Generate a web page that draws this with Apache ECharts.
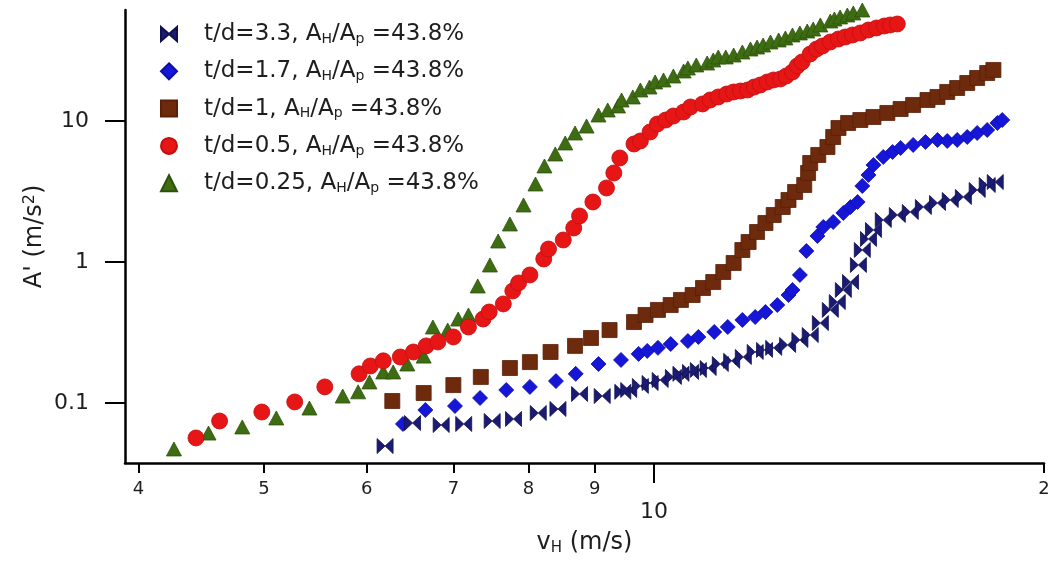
<!DOCTYPE html>
<html><head><meta charset="utf-8">
<script src="https://cdn.jsdelivr.net/npm/echarts@6/dist/echarts.min.js"></script>
<style>html,body{margin:0;padding:0;background:#fff}#c{width:1051px;height:562px}</style>
</head><body><div id="c"></div>
<script>
// ---- data ----
const seriesNames = ['t/d=3.3', 't/d=1.7', 't/d=1', 't/d=0.5', 't/d=0.25'];
const areaRatioLabel = '43.8%';
const xMinorTicks = [4, 5, 6, 7, 8, 9, 20];
const xMajorTicks = [10];
const yTicks = [0.1, 1, 10];
const xRange = [3.905, 20];
const yRange = [0.03753, 61.25];

const td33_v = [6.20,6.51,6.85,7.13,7.50,7.79,8.14,8.43,8.76,9.12,9.46,9.56,9.76,9.93,10.11,10.35,10.49,10.67,10.82,11.01,11.25,11.48,11.72,11.97,12.17,12.37,12.68,12.96,13.20,13.44,13.68,13.85,14.00,14.18,14.38,14.48,14.64,14.77,15.03,15.41,15.77,16.14,16.55,16.93,17.33,17.76,18.08,18.34];
const td33_A = [0.0495,0.0721,0.0698,0.0710,0.0745,0.0770,0.0849,0.0907,0.1158,0.112,0.120,0.1236,0.132,0.1386,0.1456,0.153,0.161,0.166,0.1714,0.177,0.189,0.199,0.212,0.230,0.238,0.246,0.258,0.280,0.3035,0.369,0.457,0.520,0.633,0.721,0.952,1.216,1.456,1.687,1.986,2.154,2.263,2.455,2.621,2.753,2.891,3.240,3.517,3.692];

const td17_v = [6.40,6.66,7.02,7.34,7.69,8.02,8.40,8.70,9.06,9.43,9.73,9.88,10.07,10.30,10.62,10.82,11.13,11.40,11.70,11.97,12.19,12.45,12.70,12.79,12.96,13.11,13.37,13.51,13.75,14.00,14.18,14.36,14.48,14.64,14.77,15.03,15.28,15.50,15.85,16.20,16.55,16.84,17.14,17.45,17.76,18.08,18.41,18.57];
const td17_A = [0.0710,0.0892,0.0952,0.1085,0.1236,0.130,0.143,0.161,0.189,0.202,0.223,0.234,0.246,0.262,0.275,0.294,0.319,0.346,0.388,0.407,0.442,0.495,0.583,0.633,0.809,1.197,1.529,1.771,1.922,2.226,2.455,2.664,3.459,4.140,4.875,5.555,6.029,6.434,6.760,7.098,7.334,7.214,7.334,7.699,8.22,8.633,9.68,10.16];

const td1_v = [6.28,6.64,7.00,7.35,7.74,8.02,8.32,8.69,8.94,9.24,9.65,9.85,10.07,10.30,10.49,10.71,10.91,11.11,11.31,11.52,11.70,11.83,12.01,12.19,12.37,12.57,12.70,12.85,13.06,13.15,13.20,13.39,13.61,13.75,13.88,14.12,14.43,14.77,15.14,15.50,15.85,16.26,16.55,16.84,17.14,17.45,17.76,18.08,18.28];
const td1_A = [0.1033,0.1177,0.134,0.153,0.177,0.195,0.230,0.254,0.289,0.329,0.375,0.421,0.457,0.495,0.538,0.583,0.654,0.721,0.849,0.984,1.216,1.386,1.632,1.890,2.154,2.455,2.753,3.137,3.517,4.278,5.035,5.740,6.540,7.699,8.920,9.68,10.16,10.67,11.40,12.16,12.99,14.09,14.80,16.06,17.14,18.60,20.18,21.89,23.00];

const td05_v = [4.43,4.62,4.98,5.28,5.57,5.92,6.04,6.18,6.37,6.52,6.67,6.81,7.00,7.19,7.38,7.46,7.65,7.78,7.86,8.02,8.22,8.29,8.51,8.67,8.76,8.97,9.19,9.31,9.41,9.65,9.76,9.93,10.06,10.21,10.35,10.54,10.67,10.90,11.05,11.21,11.38,11.52,11.66,11.81,11.95,12.08,12.23,12.37,12.52,12.65,12.79,12.90,13.01,13.20,13.35,13.49,13.68,13.88,14.05,14.23,14.43,14.64,14.85,15.06,15.22,15.41];
const td05_A = [0.0565,0.0745,0.0863,0.1017,0.130,0.161,0.183,0.199,0.212,0.230,0.254,0.271,0.294,0.346,0.394,0.442,0.504,0.623,0.710,0.809,1.050,1.236,1.432,1.742,2.120,2.664,3.349,4.278,5.466,6.869,7.214,8.356,9.52,10.16,10.85,11.58,12.57,13.20,14.09,14.80,15.54,16.06,16.32,16.59,17.42,18.00,18.91,19.54,19.86,20.85,22.26,24.55,26.21,29.87,32.40,34.03,36.33,38.16,39.42,40.73,42.09,44.20,45.67,47.18,47.97,48.74];

const td025_v = [4.26,4.53,4.81,5.11,5.42,5.75,5.91,6.03,6.18,6.29,6.45,6.64,6.75,6.93,7.06,7.19,7.31,7.47,7.58,7.74,7.93,8.10,8.23,8.39,8.54,8.69,8.87,9.06,9.21,9.38,9.44,9.63,9.76,9.92,10.02,10.17,10.35,10.54,10.62,10.78,10.99,11.11,11.21,11.36,11.52,11.70,11.87,12.01,12.14,12.30,12.48,12.63,12.79,12.96,13.13,13.27,13.44,13.68,13.78,13.92,14.10,14.25,14.48];
const td025_A = [0.0472,0.0612,0.0676,0.0783,0.0921,0.112,0.120,0.141,0.166,0.166,0.189,0.215,0.346,0.329,0.394,0.421,0.676,0.952,1.409,1.860,2.537,3.575,4.797,5.834,6.982,8.22,9.21,11.03,11.97,12.78,14.09,14.80,16.59,17.42,18.91,19.54,20.85,22.62,23.76,24.96,25.78,27.08,28.44,28.44,29.38,30.86,32.40,33.48,34.59,36.33,37.54,38.79,40.73,42.09,43.48,44.93,47.97,51.19,52.89,54.65,56.47,58.34,61.25];

// ---- styling ----
const FONT = 'DejaVu Sans';
const TXT = '#1e1e1e';
const zip = (a, b) => a.map((v, i) => [v, b[i]]);
const bowtie = 'path://M0,0L8,7L0,14ZM16,0L8,7L16,14Z';

const defs = [
  // drawn first -> bottom
  {name: seriesNames[4], v: td025_v, A: td025_A, symbol: 'triangle', size: [15, 14], color: '#3e6c12', border: '#2c520a'},
  {name: seriesNames[3], v: td05_v,  A: td05_A,  symbol: 'circle',   size: 16, color: '#e61616', border: '#c40e0e'},
  {name: seriesNames[2], v: td1_v,   A: td1_A,   symbol: 'rect',     size: 15, color: '#6e2a0c', border: '#5a2008'},
  {name: seriesNames[1], v: td17_v,  A: td17_A,  symbol: 'diamond',  size: 15, color: '#1616d6', border: '#0c0cae'},
  {name: seriesNames[0], v: td33_v,  A: td33_A,  symbol: bowtie,     size: [16, 15], color: '#1b1b74', border: '#10104f'}
];

const series = defs.map(d => ({
  name: d.name, type: 'scatter', data: zip(d.v, d.A),
  symbol: d.symbol, symbolSize: d.size, clip: false,
  itemStyle: {color: d.color, borderColor: d.border, borderWidth: 0.8, opacity: 1},
  emphasis: {disabled: true}
}));

const axisLineStyle = {color: '#000', width: 2.5};
const chart = echarts.init(document.getElementById('c'), null, {renderer: 'canvas'});
chart.setOption({
  animation: false,
  backgroundColor: '#fff',
  grid: {left: 125, right: 7, top: 10, bottom: 99, containLabel: false, outerBoundsMode: 'none'},
  legend: {
    orient: 'vertical', left: 155, top: 8, itemGap: 4.3,
    itemWidth: 16, itemHeight: 16,
    data: seriesNames,
    selectedMode: false,
    formatter: n => `{g| }${n}, A{sub|H}/A{sub|p} =${areaRatioLabel}`,
    textStyle: {
      fontFamily: FONT, fontSize: 23, color: TXT, lineHeight: 24,
      rich: {
        g: {width: 22, fontSize: 23, lineHeight: 24},
        sub: {fontSize: 14, lineHeight: 14, padding: [19, 0, 0, 0], verticalAlign: 'bottom', fontFamily: FONT, color: TXT}
      }
    }
  },
  xAxis: [{
    type: 'log', logBase: 10, min: xRange[0], max: xRange[1], position: 'bottom',
    axisLine: {show: true, onZero: false, lineStyle: axisLineStyle},
    axisTick: {show: true, inside: false, length: 10, lineStyle: {color: '#000', width: 2}, customValues: xMinorTicks},
    axisLabel: {show: true, customValues: xMinorTicks, margin: 17, fontFamily: FONT, fontSize: 18, color: TXT,
      formatter: v => { const r = Math.round(v); return r === 20 ? '2' : String(r); }},
    splitLine: {show: false}, minorTick: {show: false}, minorSplitLine: {show: false},
    name: 'v{sub|H} (m/s)', nameLocation: 'middle', nameGap: 67, nameMoveOverlap: false,
    nameTextStyle: {fontFamily: FONT, fontSize: 24, color: TXT, lineHeight: 26,
      rich: {sub: {fontSize: 15, lineHeight: 15, padding: [19, 0, 0, 0], verticalAlign: 'bottom', fontFamily: FONT, color: TXT}}}
  }, {
    type: 'log', logBase: 10, min: xRange[0], max: xRange[1], position: 'bottom', offset: 0,
    axisLine: {show: false, onZero: false},
    axisTick: {show: true, inside: false, length: 20, lineStyle: {color: '#000', width: 2}, customValues: xMajorTicks},
    axisLabel: {show: true, customValues: xMajorTicks, margin: 38, fontFamily: FONT, fontSize: 22, color: TXT,
      formatter: v => String(Math.round(v))},
    splitLine: {show: false}
  }],
  yAxis: [{
    type: 'log', logBase: 10, min: yRange[0], max: yRange[1], position: 'left',
    axisLine: {show: true, onZero: false, lineStyle: axisLineStyle},
    axisTick: {show: true, inside: false, length: 20, lineStyle: {color: '#000', width: 2}, customValues: yTicks},
    axisLabel: {show: true, customValues: yTicks, margin: 36, fontFamily: FONT, fontSize: 22, color: TXT,
      formatter: v => (v < 0.5 ? '0.1' : String(Math.round(v)))},
    splitLine: {show: false}, minorTick: {show: false},
    name: "A' (m/s{sup|2})", nameLocation: 'middle', nameRotate: 90, nameGap: 77, nameMoveOverlap: false,
    nameTextStyle: {fontFamily: FONT, fontSize: 24, color: TXT, lineHeight: 26,
      rich: {sup: {fontSize: 16, lineHeight: 16, padding: [0, 0, 30, 0], verticalAlign: 'top', fontFamily: FONT, color: TXT}}}
  }],
  series: series
});
</script></body></html>
